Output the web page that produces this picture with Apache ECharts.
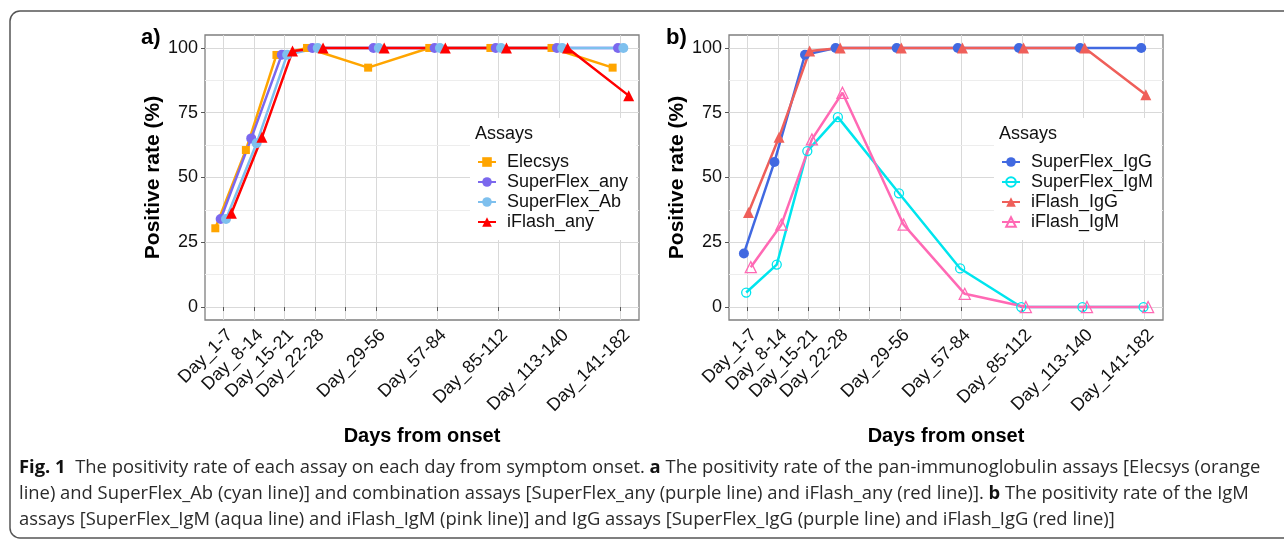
<!DOCTYPE html>
<html>
<head>
<meta charset="utf-8">
<script src="https://cdn.jsdelivr.net/npm/echarts@6/dist/echarts.min.js"></script>
<style>
  html, body { margin: 0; padding: 0; background: #fff; }
  #chart { width: 1284px; height: 540px; }
</style>
</head>
<body>
<div id="chart"></div>
<script>
// time windows and where they sit on the x scale
const periods = ['Day_1-7', 'Day_8-14', 'Day_15-21', 'Day_22-28', 'Day_29-56', 'Day_57-84', 'Day_85-112', 'Day_113-140', 'Day_141-182']
const periodPos = [1, 2, 3, 4, 6, 8, 10, 12, 14]
const tickPos = [1, 2, 3, 4, 5, 6, 8, 10, 12, 14]
const yTicks = [0, 25, 50, 75, 100]
const yMinor = [12.5, 37.5, 62.5, 87.5]

// panel a) pan-immunoglobulin / combination assays
const elecsys = [30.4, 60.6, 97.3, 100, 92.4, 100, 100, 100, 92.4]
const superFlexAny = [34.0, 65.1, 97.4, 100, 100, 100, 100, 100, 100]
const superFlexAb = [34.0, 63.2, 97.4, 100, 100, 100, 100, 100, 100]
const iFlashAny = [36.2, 65.5, 98.8, 100, 100, 100, 100, 100, 81.6]

// panel b) IgG / IgM assays
const superFlexIgG = [20.7, 56.0, 97.4, 100, 100, 100, 100, 100, 100]
const superFlexIgM = [5.6, 16.4, 60.2, 73.3, 43.9, 14.9, 0, 0, 0]
const iFlashIgG = [36.5, 65.5, 98.8, 100, 100, 100, 100, 100, 81.9]
const iFlashIgM = [15.4, 31.8, 64.7, 82.7, 31.8, 5.1, 0, 0, 0]

const dodgeA = [-0.2625, -0.0875, 0.0875, 0.2625]
const dodgeB = [-0.1125, -0.0375, 0.0375, 0.1125]

const FONT = 'Liberation Sans, Arial, sans-serif'
const pts = (vals, off) => vals.map((v, i) => [periodPos[i] + off, v])

const makeX = (idx) => ({
  type: 'value',
  gridIndex: idx,
  min: 0.4,
  max: 14.6,
  name: 'Days from onset',
  nameLocation: 'middle',
  nameGap: 106,
  nameTextStyle: { fontFamily: FONT, fontSize: 20, fontWeight: 'bold', color: '#000' },
  axisLine: { show: false },
  axisTick: { show: true, length: 4, customValues: tickPos, lineStyle: { color: '#555' } },
  axisLabel: {
    customValues: periodPos,
    rotate: 45,
    margin: 6,
    verticalAlign: 'top',
    fontFamily: FONT,
    fontSize: 18,
    color: '#111',
    formatter: (v) => {
      const i = periodPos.indexOf(v)
      return i >= 0 ? periods[i] : ''
    }
  },
  splitLine: { show: true, lineStyle: { color: '#D9D9D9', width: 1 } }
})

const makeY = (idx) => ({
  type: 'value',
  gridIndex: idx,
  min: -5,
  max: 105,
  name: 'Positive rate (%)',
  nameLocation: 'middle',
  nameGap: 36,
  nameTextStyle: { fontFamily: FONT, fontSize: 21, fontWeight: 'bold', color: '#000' },
  axisLine: { show: false },
  axisTick: { show: true, length: 4, customValues: yTicks, lineStyle: { color: '#555' } },
  axisLabel: { customValues: yTicks, margin: 7, fontFamily: FONT, fontSize: 18, color: '#111' },
  splitLine: { show: true, lineStyle: { color: '#D9D9D9', width: 1 } }
})

const minorLines = {
  silent: true,
  symbol: ['none', 'none'],
  z: 1,
  label: { show: false },
  lineStyle: { color: '#EDEDED', type: 'solid', width: 1 },
  data: yMinor.map(v => ({ yAxis: v }))
}

const filled = (name, data, color, symbol, size, idx) => ({
  name,
  type: 'line',
  xAxisIndex: idx,
  yAxisIndex: idx,
  data,
  symbol,
  symbolSize: size,
  showAllSymbol: true,
  itemStyle: { color },
  lineStyle: { color, width: 2.5 }
})

const hollow = (name, data, color, symbol, size, idx) => ({
  name,
  type: 'line',
  xAxisIndex: idx,
  yAxisIndex: idx,
  data,
  symbol,
  symbolSize: size,
  showAllSymbol: true,
  itemStyle: { color: 'rgba(255,255,255,0)', borderColor: color, borderWidth: 1.3 },
  lineStyle: { color, width: 2.5 }
})

const legendBase = {
  orient: 'vertical',
  top: 118,
  itemWidth: 18,
  itemHeight: 12,
  itemGap: 0,
  backgroundColor: '#fff',
  padding: [34, 8, 8, 7],
  textStyle: { fontFamily: FONT, fontSize: 18, lineHeight: 20, color: '#111', padding: [0, 0, 0, 6] }
}

const chartInstance = echarts.init(document.getElementById('chart'))

const s0 = filled('Elecsys', pts(elecsys, dodgeA[0]), '#FFA500', 'rect', 8, 0)
s0.markLine = minorLines
const s4 = filled('SuperFlex_IgG', pts(superFlexIgG, dodgeB[0]), '#4169E1', 'circle', 10, 1)
s4.markLine = minorLines

const option = {
  animation: false,
  backgroundColor: '#fff',
  grid: [
    { left: 205, top: 35, width: 434, height: 285, show: true, borderColor: '#7F7F7F', borderWidth: 1.3, backgroundColor: 'transparent' },
    { left: 729, top: 35, width: 434, height: 285, show: true, borderColor: '#7F7F7F', borderWidth: 1.3, backgroundColor: 'transparent' }
  ],
  xAxis: [makeX(0), makeX(1)],
  yAxis: [makeY(0), makeY(1)],
  legend: [
    Object.assign({}, legendBase, { left: 470, data: ['Elecsys', 'SuperFlex_any', 'SuperFlex_Ab', 'iFlash_any'] }),
    Object.assign({}, legendBase, { left: 994, data: ['SuperFlex_IgG', 'SuperFlex_IgM', 'iFlash_IgG', 'iFlash_IgM'] })
  ],
  series: [
    s0,
    filled('SuperFlex_any', pts(superFlexAny, dodgeA[1]), '#7B68EE', 'circle', 10, 0),
    filled('SuperFlex_Ab', pts(superFlexAb, dodgeA[2]), '#7EC0EE', 'circle', 10, 0),
    filled('iFlash_any', pts(iFlashAny, dodgeA[3]), '#FF0000', 'triangle', 11, 0),
    s4,
    hollow('SuperFlex_IgM', pts(superFlexIgM, dodgeB[1]), '#00E5EE', 'circle', 9, 1),
    filled('iFlash_IgG', pts(iFlashIgG, dodgeB[2]), '#EF5F5A', 'triangle', 11, 1),
    hollow('iFlash_IgM', pts(iFlashIgM, dodgeB[3]), '#FF69B4', 'triangle', 11, 1)
  ],
  graphic: [
    {
      type: 'rect', z: 100, silent: true,
      shape: { x: 10, y: 11, width: 1300, height: 527, r: 10 },
      style: { fill: 'none', stroke: '#555', lineWidth: 1.5 }
    },
    { type: 'text', z: 100, left: 141, top: 27, style: { text: 'a)', font: 'bold 22px ' + FONT, fill: '#000' } },
    { type: 'text', z: 100, left: 666, top: 27, style: { text: 'b)', font: 'bold 22px ' + FONT, fill: '#000' } },
    { type: 'text', z: 100, left: 475, top: 125, style: { text: 'Assays', font: '18px ' + FONT, fill: '#111' } },
    { type: 'text', z: 100, left: 999, top: 125, style: { text: 'Assays', font: '18px ' + FONT, fill: '#111' } },
    {
      type: 'text', z: 100, left: 19, top: 455,
      style: {
        text: '{b|Fig. 1}  The positivity rate of each assay on each day from symptom onset. {b|a} The positivity rate of the pan-immunoglobulin assays [Elecsys (orange\n' +
          'line) and SuperFlex_Ab (cyan line)] and combination assays [SuperFlex_any (purple line) and iFlash_any (red line)]. {b|b} The positivity rate of the IgM\n' +
          'assays [SuperFlex_IgM (aqua line) and iFlash_IgM (pink line)] and IgG assays [SuperFlex_IgG (purple line) and iFlash_IgG (red line)]',
        fontFamily: 'Open Sans', fontSize: 18.4, lineHeight: 26, fill: '#2a2a2a',
        rich: { b: { fontFamily: 'Open Sans', fontSize: 18.4, lineHeight: 26, fontWeight: 'bold', fill: '#111' } }
      }
    }
  ]
}

chartInstance.setOption(option)
window.addEventListener('resize', () => chartInstance.resize())
</script>
</body>
</html>
